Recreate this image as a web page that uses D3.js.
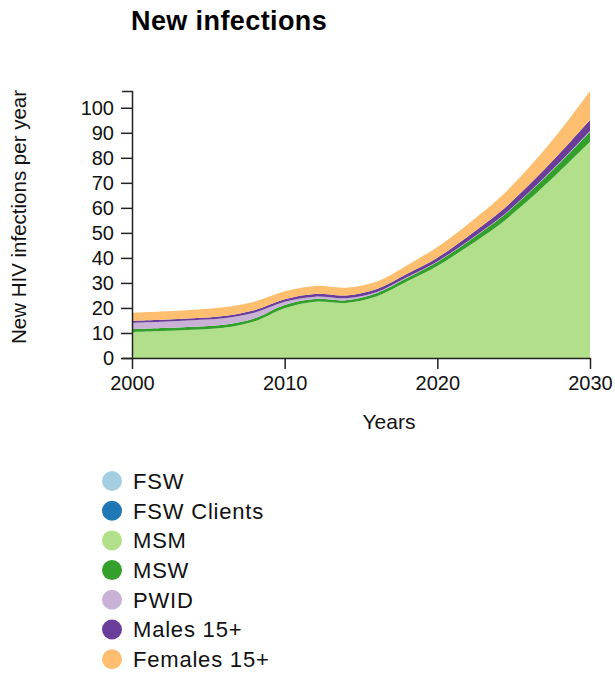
<!DOCTYPE html>
<html>
<head>
<meta charset="utf-8">
<script src="https://cdnjs.cloudflare.com/ajax/libs/d3/7.8.5/d3.min.js"></script>
<style>
body { margin: 0; background: #fff; font-family: "Liberation Sans", Arial, sans-serif; }
.axis text { font-size: 20px; font-family: "Liberation Sans", Arial, sans-serif; fill: #111; }
.axis path, .axis line { stroke: #222; stroke-width: 1.5; }
</style>
</head>
<body>
<div id="chart"></div>
<script>
// values, every 2 years
var years = [2000, 2002, 2004, 2006, 2008, 2010, 2012, 2014, 2016, 2018, 2020, 2022, 2024, 2026, 2028, 2030];
var fsw        = [0, 0, 0, 0, 0, 0, 0, 0, 0, 0, 0, 0, 0, 0, 0, 0];
var fswClients = [0, 0, 0, 0, 0, 0, 0, 0, 0, 0, 0, 0, 0, 0, 0, 0];
var msm        = [10.4, 10.8, 11.3, 12.1, 14.6, 19.9, 22.5, 22.0, 24.6, 30.6, 36.8, 44.6, 53.0, 63.2, 74.5, 86.4];
var msw        = [1.2, 1.2, 1.2, 1.2, 1.2, 1.3, 1.1, 1.1, 1.3, 1.4, 1.6, 1.9, 2.3, 2.8, 3.3, 4.0];
var pwid       = [2.5, 2.5, 2.6, 2.6, 2.3, 1.3, 0.9, 0.8, 0.4, 0.3, 0.2, 0.2, 0.2, 0.2, 0.3, 0.3];
var males      = [0.8, 0.8, 0.8, 0.9, 1.0, 1.0, 1.1, 1.1, 1.2, 1.3, 1.5, 1.9, 2.3, 2.9, 3.6, 4.4];
var females    = [3.2, 3.3, 3.4, 3.5, 3.4, 3.2, 3.2, 3.1, 3.0, 3.4, 4.3, 4.9, 5.8, 7.0, 8.8, 11.6];

var groups = ["FSW", "FSW Clients", "MSM", "MSW", "PWID", "Males 15+", "Females 15+"];
var colors = ["#a6cee3", "#1f78b4", "#b2df8a", "#33a02c", "#cab2d6", "#6a3d9a", "#fdbf6f"];
var yTicks = [0, 10, 20, 30, 40, 50, 60, 70, 80, 90, 100];
var xTicks = [2000, 2010, 2020, 2030];

var series = [fsw, fswClients, msm, msw, pwid, males, females];
var rows = years.map(function(yr, i) {
    var r = {year: yr};
    groups.forEach(function(g, j) { r[g] = series[j][i]; });
    return r;
});

var margin = {top: 91, right: 25, bottom: 315, left: 132},
    W = 615, H = 673,
    width = W - margin.left - margin.right,
    height = H - margin.top - margin.bottom;

var svg = d3.select("#chart").append("svg")
    .attr("width", W)
    .attr("height", H);

var stacked = d3.stack().keys(groups)(rows);

var x = d3.scaleLinear().domain([2000, 2030]).range([0, width]);
var y = d3.scaleLinear()
    .domain([0, d3.max(stacked[stacked.length - 1], function(d) { return d[1]; })])
    .range([height, 0]);

var color = d3.scaleOrdinal().domain(groups).range(colors);

var area = d3.area()
    .curve(d3.curveCatmullRom.alpha(0.5))
    .x(function(d) { return x(d.data.year); })
    .y0(function(d) { return y(d[0]); })
    .y1(function(d) { return y(d[1]); });

var g = svg.append("g")
    .attr("transform", "translate(" + margin.left + "," + margin.top + ")");

g.selectAll(".layer")
    .data(stacked)
    .enter().append("path")
    .attr("class", "layer")
    .attr("fill", function(d) { return color(d.key); })
    .attr("d", area);

g.append("g")
    .attr("class", "axis axis--x")
    .attr("transform", "translate(0," + height + ")")
    .call(d3.axisBottom(x).tickValues(xTicks).tickFormat(d3.format("d")).tickSize(11).tickSizeOuter(0).tickPadding(7));

g.append("g")
    .attr("class", "axis axis--y")
    .call(d3.axisLeft(y).tickValues(yTicks).tickSize(11).tickSizeOuter(10).tickPadding(7));

// titles
svg.append("text")
    .attr("x", 131)
    .attr("y", 30)
    .attr("font-size", 27)
    .attr("font-weight", "bold")
    .attr("letter-spacing", 0.4)
    .attr("fill", "#000")
    .text("New infections");

svg.append("text")
    .attr("x", 389)
    .attr("y", 429)
    .attr("text-anchor", "middle")
    .attr("font-size", 21)
    .attr("fill", "#111")
    .text("Years");

svg.append("text")
    .attr("transform", "translate(26," + 217 + ") rotate(-90)")
    .attr("text-anchor", "middle")
    .attr("font-size", 20.5)
    .attr("fill", "#111")
    .text("New HIV infections per year");

// legend
var legend = svg.append("g")
    .attr("transform", "translate(112,481)");

var item = legend.selectAll(".item")
    .data(groups)
    .enter().append("g")
    .attr("class", "item")
    .attr("transform", function(d, i) { return "translate(0," + (i * 29.7) + ")"; });

item.append("circle")
    .attr("r", 10)
    .attr("fill", function(d) { return color(d); });

item.append("text")
    .attr("x", 21)
    .attr("dy", "0.36em")
    .attr("font-size", 22)
    .attr("letter-spacing", 0.8)
    .attr("fill", "#111")
    .text(function(d) { return d; });
</script>
</body>
</html>
